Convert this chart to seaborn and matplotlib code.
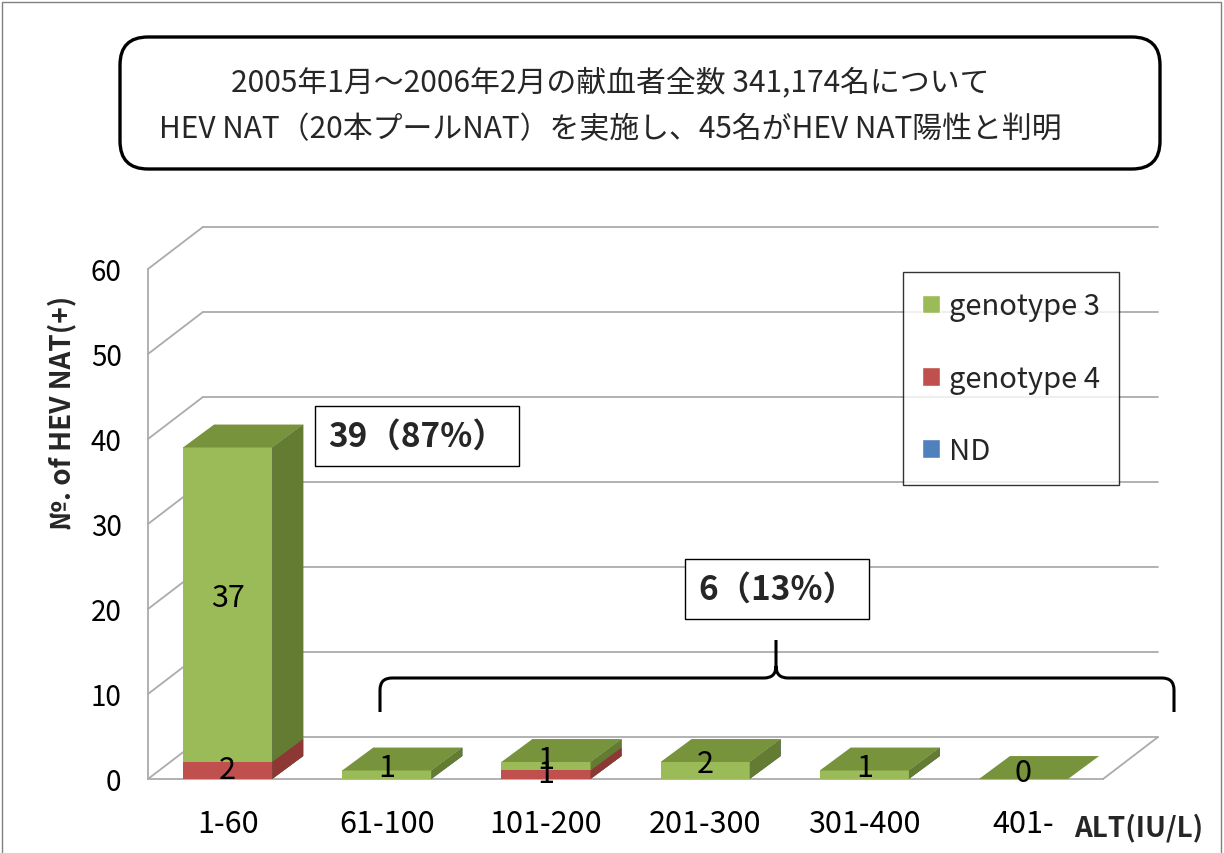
import matplotlib
matplotlib.use("Agg")
import pandas as pd
import matplotlib.pyplot as plt
import seaborn as sns
from matplotlib.patches import Polygon, Patch, FancyBboxPatch, Rectangle, PathPatch
from matplotlib.path import Path

# ------------------- Data -------------------
alt_ranges = ["1-60", "61-100", "101-200", "201-300", "301-400", "401-"]
genotype3 = [37, 1, 1, 2, 1, 0]
genotype4 = [2, 0, 1, 0, 0, 0]
nd = [0, 0, 0, 0, 0, 0]
series_names = ["genotype 3", "genotype 4", "ND"]
y_ticks = [0, 10, 20, 30, 40, 50, 60]

title_lines = ["2005年1月～2006年2月の献血者全数 341,174名について",
               "HEV NAT（20本プールNAT）を実施し、45名がHEV NAT陽性と判明"]
group_notes = ["39（87%）", "6（13%）"]

# colours (front / top / side)
GREEN, GREEN_TOP, GREEN_SIDE = "#9BBB59", "#77933C", "#637C31"
RED, RED_TOP, RED_SIDE = "#C0504D", "#9A3B39", "#8E3836"
BLUE, BLUE_TOP, BLUE_SIDE = "#4F81BD", "#3D6798", "#345A88"
GRID = "#ABABAB"

# 3D look: depth of the back wall and of each bar, in data units
DX, DY = 0.345, 4.94
BDX, BDY = 0.195, 2.7
BAR_W = 0.56
LABEL_LIFT = 0.8

sns.set_style("white")
plt.rcParams["font.family"] = ["Noto Sans CJK JP", "DejaVu Sans"]

W, H = 1224, 854
fig = plt.figure(figsize=(W / 100, H / 100), dpi=100)


def px(x, y):
    """pixel position (y down) -> inches for fig.dpi_scale_trans"""
    return (x / 100, (H - y) / 100)


# axes box: front floor 148..1103 px, zero at 780 px, back top at 228 px
ax = fig.add_axes([148 / W, 1 - 780 / H, (1158 - 148) / W, (780 - 228) / H])

df = pd.DataFrame({"ALT": alt_ranges, "g3": genotype3, "g4": genotype4, "nd": nd})
df["cum_g4"] = df["g4"]
df["cum_g3"] = df["g4"] + df["g3"]
df["cum_nd"] = df["cum_g3"] + df["nd"]

# ------------------- back wall / floor grid -------------------
x_left, x_right = -0.5, len(alt_ranges) - 0.5
for v in y_ticks:
    ax.plot([x_left, x_left + DX], [v, v + DY], color=GRID, lw=1.3, zorder=1, clip_on=False)
    ax.plot([x_left + DX, x_right + DX], [v + DY, v + DY], color=GRID, lw=1.3, zorder=1, clip_on=False)
ax.plot([x_right, x_right + DX], [0, DY], color=GRID, lw=1.3, zorder=1, clip_on=False)

# ------------------- bars (stacked by overlapping totals) -------------------
layers = [("cum_nd", BLUE, BLUE_SIDE), ("cum_g3", GREEN, GREEN_SIDE), ("cum_g4", RED, RED_SIDE)]
total_bars = None
for k, (col, c, c_side) in enumerate(layers):
    n0 = len(ax.patches)
    sns.barplot(data=df, x="ALT", y=col, order=alt_ranges, color=c, saturation=1,
                width=BAR_W, errorbar=None, ax=ax, zorder=3 + k, linewidth=0, edgecolor="none")
    bars = ax.patches[n0:]
    if total_bars is None:
        total_bars = bars
    for p in bars:
        x0, w, y1 = p.get_x(), p.get_width(), p.get_height()
        if y1 <= 0:
            continue
        side = Polygon([(x0 + w, 0), (x0 + w + BDX, BDY), (x0 + w + BDX, y1 + BDY), (x0 + w, y1)],
                       closed=True, facecolor=c_side, edgecolor="none", zorder=3 + k)
        ax.add_patch(side)

# top faces in the colour of the highest non-empty segment
for i, p in enumerate(total_bars):
    x0, w, y1 = p.get_x(), p.get_width(), p.get_height()
    if nd[i] > 0:
        c_top = BLUE_TOP
    elif genotype3[i] > 0 or y1 == 0:
        c_top = GREEN_TOP
    else:
        c_top = RED_TOP
    top = Polygon([(x0, y1), (x0 + w, y1), (x0 + w + BDX, y1 + BDY), (x0 + BDX, y1 + BDY)],
                  closed=True, facecolor=c_top, edgecolor="none", zorder=6)
    ax.add_patch(top)

# data labels
for i in range(len(alt_ranges)):
    ax.text(i, genotype4[i] + genotype3[i] / 2 + LABEL_LIFT, str(genotype3[i]), ha="center",
            va="center", fontsize=22, color="black", zorder=10)
    if genotype4[i] > 0:
        ax.text(i, genotype4[i] / 2 + LABEL_LIFT * 0.2, str(genotype4[i]), ha="center",
                va="center", fontsize=22, color="black", zorder=10)

# ------------------- axes styling -------------------
ax.set_xlim(x_left, x_right + DX)
ax.set_ylim(0, 60 + DY)
ax.set_yticks(y_ticks)
ax.set_xlabel("")
ax.set_ylabel("")
for s in ["top", "right"]:
    ax.spines[s].set_visible(False)
ax.spines["left"].set_bounds(0, 60)
ax.spines["bottom"].set_bounds(x_left, x_right)
for s in ["left", "bottom"]:
    ax.spines[s].set_color(GRID)
    ax.spines[s].set_linewidth(1.3)
ax.tick_params(axis="y", length=7, width=1.3, color=GRID, pad=12, labelsize=20, labelcolor="black")
ax.tick_params(axis="x", length=0, pad=21, labelsize=22, labelcolor="black")
ax.set_facecolor("none")

fig.text(62 / W, 1 - 413 / H, "№. of HEV NAT(+)", rotation=90, ha="center", va="center",
         fontsize=20, fontweight="bold")
fig.text(1074 / W, 1 - 828 / H, "ALT(IU/L)", ha="left", va="center", fontsize=20, fontweight="bold")

# legend
handles = [Patch(facecolor=GREEN), Patch(facecolor=RED), Patch(facecolor=BLUE)]
leg = ax.legend(handles, series_names, loc="upper left", bbox_to_anchor=(903 / W, 1 - 273 / H),
                bbox_transform=fig.transFigure, frameon=True, fancybox=False, edgecolor="black",
                fontsize=21, labelspacing=1.45, handlelength=0.62, handleheight=0.62,
                handletextpad=0.3, borderpad=0.66, borderaxespad=0)
leg.get_frame().set_linewidth(1.0)
leg.set_zorder(20)

# ------------------- annotations -------------------
box = dict(boxstyle="square,pad=0.4", facecolor="white", edgecolor="black", linewidth=1.0)
fig.text(417 / W, 1 - 437 / H, group_notes[0], ha="center", va="center", fontsize=24,
         fontweight="bold", bbox=box, zorder=20)
fig.text(777 / W, 1 - 590 / H, group_notes[1], ha="center", va="center", fontsize=24,
         fontweight="bold", bbox=box, zorder=20)

# curly brace over the 61+ groups
M, L, C = Path.MOVETO, Path.LINETO, Path.CURVE3
verts = [px(380, 713), px(380, 691), px(380, 679), px(392, 679), px(764, 679),
         px(776, 679), px(776, 667), px(776, 641),
         px(776, 667), px(776, 679), px(788, 679), px(1162, 679),
         px(1174, 679), px(1174, 691), px(1174, 713)]
codes = [M, L, C, C, L, C, C, L, M, C, C, L, C, C, L]
fig.add_artist(PathPatch(Path(verts, codes), transform=fig.dpi_scale_trans, fill=False,
                         edgecolor="black", linewidth=2.2))

# title box
fig.add_artist(FancyBboxPatch(px(120, 170), 10.40, 1.32, boxstyle="round,pad=0,rounding_size=0.28",
                              transform=fig.dpi_scale_trans, facecolor="white",
                              edgecolor="black", linewidth=2.4))
fig.text(610 / W, 1 - 83 / H, title_lines[0], ha="center", va="center", fontsize=21.5)
fig.text(610 / W, 1 - 130 / H, title_lines[1], ha="center", va="center", fontsize=21.5)

# thin outer frame
fig.add_artist(Rectangle((0.02, -0.1), 12.19, 8.61, transform=fig.dpi_scale_trans,
                         fill=False, edgecolor="#808080", linewidth=1.0))

fig.savefig("out.png", dpi=100, facecolor="white")
